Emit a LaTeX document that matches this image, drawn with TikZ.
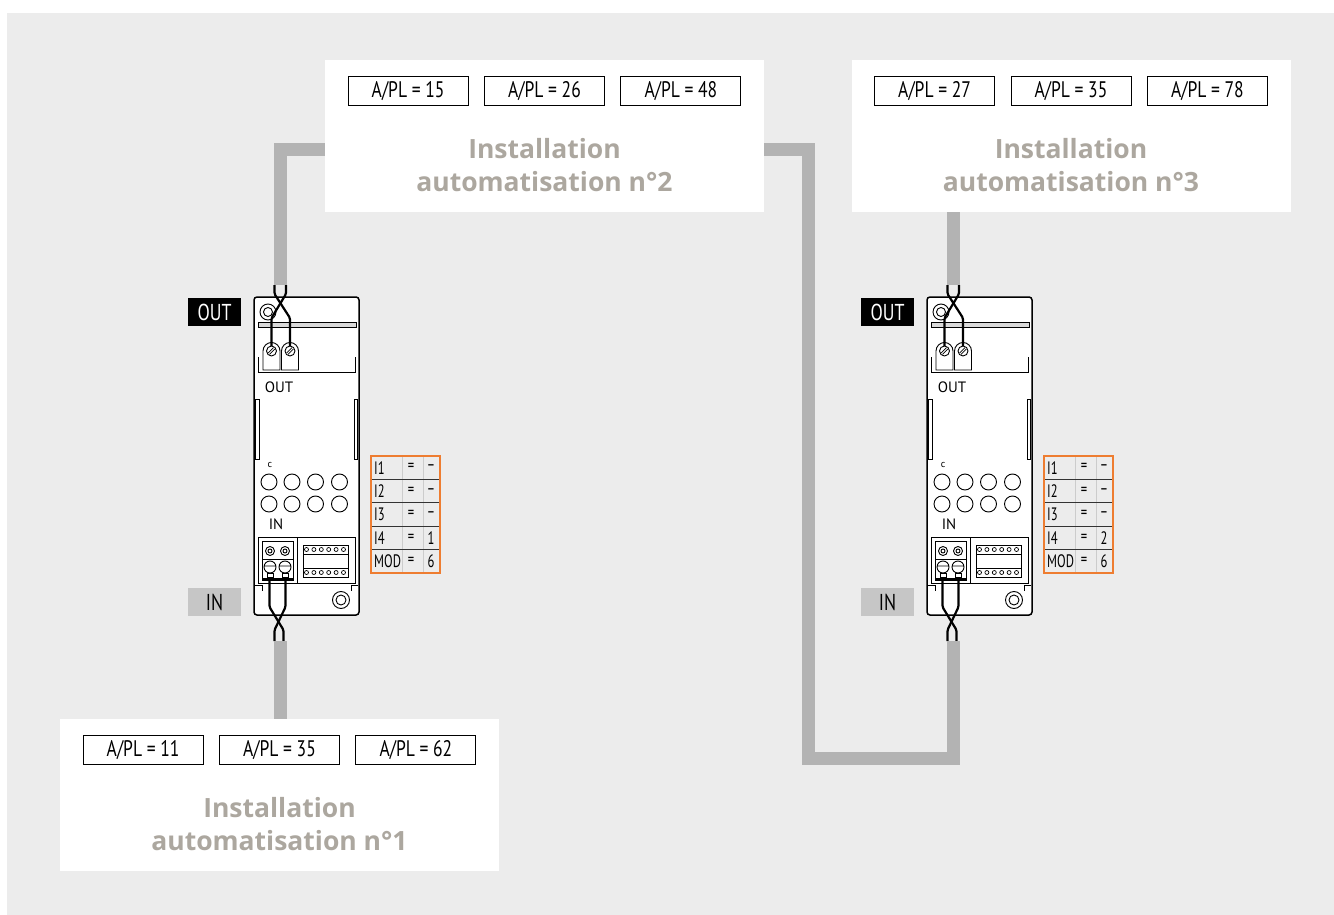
\documentclass[tikz,border=0pt]{standalone}
\usepackage{fontspec}
\usetikzlibrary{positioning,calc}
\newfontfamily\condfont[FakeStretch=0.78]{PT Sans}
\newfontfamily\tabfont[FakeStretch=0.7]{PT Sans}
\newfontfamily\devfont{PT Sans}
\newfontfamily\titlefont{Open Sans}
\definecolor{bgcol}{HTML}{ECECEC}
\definecolor{cablecol}{HTML}{B3B3B3}
\definecolor{titlecol}{HTML}{ACA79F}
\definecolor{tabcol}{HTML}{EE7D31}
\definecolor{incol}{HTML}{C6C6C6}

\begin{document}
\begin{tikzpicture}[x=1pt, y=-1pt,
    instbox/.style={fill=white, minimum width=439pt, minimum height=152pt, inner sep=0pt},
    valbox/.style={draw, line width=0.9pt, fill=white, minimum width=120pt, minimum height=29pt, inner sep=0pt, font=\condfont\fontsize{22.5}{24}\selectfont},
    insttitle/.style={align=center, text=titlecol, inner sep=0pt, font=\titlefont\bfseries\fontsize{26.5}{33}\selectfont},
    cable/.style={draw=cablecol, line width=13pt},
    devbody/.style={draw, line width=1.5pt, fill=white, rounded corners=3pt, minimum width=105pt, minimum height=318pt, inner sep=0pt},
    part/.style={line width=0.9pt},
    wire/.style={line width=2.2pt, rounded corners=1.5pt},
    devtext/.style={inner sep=0pt, font=\devfont\fontsize{15}{17}\selectfont},
    outlab/.style={fill=black, text=white, minimum width=53pt, minimum height=28pt, inner sep=0pt, font=\condfont\fontsize{23}{25}\selectfont},
    inlab/.style={outlab, fill=incol, text=black},
    tabtext/.style={inner sep=0pt, font=\tabfont\fontsize{18}{20}\selectfont}]

\useasboundingbox (0,0) rectangle (1334,915);
% background
\fill[bgcol] (7,13) rectangle (1334,915);

% installations
\foreach \n/\cx/\cy/\va/\vb/\vc in {1/279.5/795/11/35/62, 2/544.5/136/15/26/48, 3/1071/136/27/35/78}{
  \node[instbox] (inst\n) at (\cx,\cy) {};
  \node[valbox] (val\n-2) at ($(inst\n.north)+(0,31)$) {A/PL = \vb};
  \node[valbox, left=15.5pt of val\n-2] (val\n-1) {A/PL = \va};
  \node[valbox, right=15.5pt of val\n-2] (val\n-3) {A/PL = \vc};
  \node[insttitle] (title\n) at ($(inst\n.center)+(0,29)$) {Installation\\automatisation n°\n};
}

% devices
\foreach \n/\dx/\iv in {1/0/1, 2/673/2}{
\begin{scope}[xshift=\dx pt]
  % labels
  \node[outlab] (outlab\n) at (214.5,312) {OUT};
  \node[inlab] (inlab\n) at (214.5,602) {IN};
  % body
  \node[devbody] (dev\n) at (306.5,456) {};
  \coordinate (top\n) at (280,285);
  \coordinate (bot\n) at (280,641);
  \draw[part] (268,312) circle (8) (268,312) circle (4.5);
  \draw[part, fill=gray!30] (258,322) rectangle (356,327);
  \draw[part] (258,357) |- (355,372) -- (355,357);
  \draw[part] (255.5,399) rectangle (259,459) (354,399) rectangle (357.5,459);
  % out terminals
  \foreach \tx in {271.5,290}{
    \draw[part, fill=white] (\tx-8.5,370) -- (\tx-8.5,351) arc[start angle=180, end angle=0, radius=8.5pt] -- (\tx+8.5,370) -- cycle;
    \draw[part] (\tx,351) circle (5);
    \draw[line width=0.7pt] (\tx-3.4,353) -- (\tx+2,347.6) (\tx-2,354.4) -- (\tx+3.4,349);
  }
  \node[devtext] (outtxt\n) at (279,387) {OUT};
  % leds
  \node[devtext, font=\devfont\fontsize{10}{12}\selectfont] (ctxt\n) at (270,465) {c};
  \foreach \cx in {269,292,315.5,339.5}
    \foreach \cy in {482,504}
      \draw[part] (\cx,\cy) circle (8);
  \node[devtext] (intxt\n) at (276,524) {IN};
  % in terminals
  \draw[part] (258,537) rectangle (355,583) (297,537) -- (297,583);
  \draw[part] (262,541) rectangle (293,580) (262,559) -- (293,559);
  \foreach \tx in {270,285}{
    \draw[part] (\tx,551) circle (4.5) (\tx,551) circle (2);
    \draw[part] (\tx,567) circle (6) (\tx-6,566) -- (\tx+6,566);
    \draw[part] (\tx-3,573) rectangle (\tx+3,577);
  }
  \draw[line width=1.6pt] (262,579) -- (293,579);
  % connector
  \draw[part] (303,545) rectangle (348,577) (303,554) -- (348,554) (303,568) -- (348,568);
  \foreach \k in {0,...,5}
    \draw[line width=0.7pt] (306.5+7.4*\k,549.5) circle (2) (306.5+7.4*\k,572.5) circle (2);
  \draw[part] (255,585) -| (262,591) (358,585) -| (351,591);
  \draw[part] (341,600) circle (8.5) (341,600) circle (5);
  % table
  \draw[gray!40, line width=0.7pt] (402,457) -- (402,572) (423,457) -- (423,572);
  \foreach \r in {1,...,4}
    \draw[line width=0.9pt, black!80] (371.5,456+23.4*\r) -- (439.5,456+23.4*\r);
  \draw[tabcol, line width=1.3pt] (371,456) rectangle (440,573);
  \foreach \lab/\v [count=\r] in {I1/–,I2/–,I3/–,I4/\iv,MOD/6}{
    \node[tabtext, anchor=west] (lab\n-\r) at (374,444.3+23.4*\r) {\lab};
    \node[tabtext] (eq\n-\r) at (411,444.3+23.4*\r) {=};
    \node[tabtext] (v\n-\r) at (431,444.3+23.4*\r) {\v};
  }
  % wires
  \draw[wire] (274.5,285) -- (274.5,294) -- (290,318) -- (290,346);
  \draw[wire] (286,285) -- (286,294) -- (271.5,318) -- (271.5,346);
  \draw[wire] (269.5,577) -- (269.5,607) -- (283.5,630) -- (283.5,641);
  \draw[wire] (285.5,577) -- (285.5,607) -- (274.5,630) -- (274.5,641);
\end{scope}
}

% cables
\coordinate (bend) at (808.5,758.5);
\draw[cable] (top1) |- ([yshift=-13.5pt]inst2.west);
\draw[cable] (bot1) -- (bot1 |- inst1.north);
\draw[cable] ([yshift=-13.5pt]inst2.east) -| (bend) -| (bot2);
\draw[cable] (top2) -- (top2 |- inst3.south);

\end{tikzpicture}
\end{document}
